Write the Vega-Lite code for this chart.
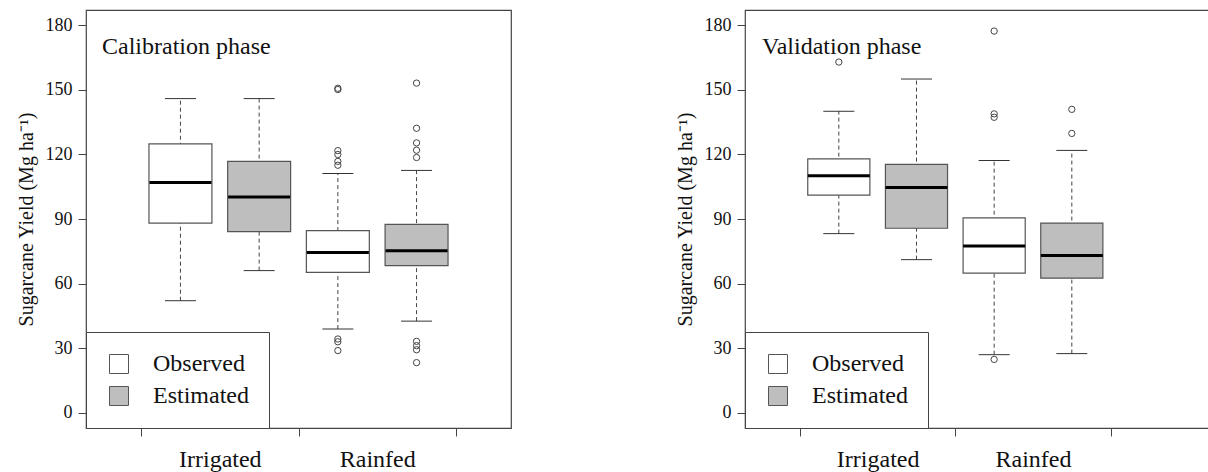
{
  "$schema": "https://vega.github.io/schema/vega-lite/v6.json",
  "padding": {"left": 15, "top": 9, "right": 0, "bottom": 0},
  "background": "white",
  "bounds": "flush",
  "spacing": 234,
  "config": {
    "font": "Liberation Serif",
    "view": {"stroke": "#444", "strokeWidth": 1.2},
    "tick": {"opacity": 1},
    "point": {"opacity": 1},
    "axis": {"grid": false, "domain": false, "tickColor": "#444", "tickSize": 8, "labelColor": "#111", "titleColor": "#111", "labelFont": "Liberation Serif", "titleFont": "Liberation Serif", "titleFontWeight": "normal"},
    "legend": {"orient": "bottom-left", "offset": 0, "padding": 20, "strokeColor": "#444", "fillColor": "white", "labelFont": "Liberation Serif", "labelFontSize": 24, "labelColor": "#111", "labelOffset": 22, "symbolOffset": 1, "symbolType": "square", "symbolSize": 361, "symbolStrokeColor": "#555", "symbolStrokeWidth": 1, "rowPadding": 8, "title": null}
  },
  "datasets": {
    "stats": [
      {"phase": "Calibration", "group": "Irrigated", "type": "Observed", "lower": 52.0, "q1": 88.1, "median": 107.0, "q3": 124.9, "upper": 146.0},
      {"phase": "Calibration", "group": "Irrigated", "type": "Estimated", "lower": 66.0, "q1": 84.1, "median": 100.2, "q3": 116.8, "upper": 146.0},
      {"phase": "Calibration", "group": "Rainfed", "type": "Observed", "lower": 38.8, "q1": 65.2, "median": 74.4, "q3": 84.6, "upper": 111.2},
      {"phase": "Calibration", "group": "Rainfed", "type": "Estimated", "lower": 42.5, "q1": 68.3, "median": 75.2, "q3": 87.5, "upper": 112.6},
      {"phase": "Validation", "group": "Irrigated", "type": "Observed", "lower": 83.2, "q1": 101.1, "median": 110.1, "q3": 118.0, "upper": 140.1},
      {"phase": "Validation", "group": "Irrigated", "type": "Estimated", "lower": 71.1, "q1": 85.7, "median": 104.7, "q3": 115.4, "upper": 155.1},
      {"phase": "Validation", "group": "Rainfed", "type": "Observed", "lower": 26.9, "q1": 64.8, "median": 77.5, "q3": 90.5, "upper": 117.2},
      {"phase": "Validation", "group": "Rainfed", "type": "Estimated", "lower": 27.4, "q1": 62.5, "median": 73.0, "q3": 88.1, "upper": 121.9}
    ],
    "outliers": [
      {"phase": "Calibration", "group": "Rainfed", "type": "Observed", "value": 150.8},
      {"phase": "Calibration", "group": "Rainfed", "type": "Observed", "value": 150.2},
      {"phase": "Calibration", "group": "Rainfed", "type": "Observed", "value": 121.8},
      {"phase": "Calibration", "group": "Rainfed", "type": "Observed", "value": 120.0},
      {"phase": "Calibration", "group": "Rainfed", "type": "Observed", "value": 116.8},
      {"phase": "Calibration", "group": "Rainfed", "type": "Observed", "value": 115.0},
      {"phase": "Calibration", "group": "Rainfed", "type": "Observed", "value": 34.2},
      {"phase": "Calibration", "group": "Rainfed", "type": "Observed", "value": 32.9},
      {"phase": "Calibration", "group": "Rainfed", "type": "Observed", "value": 28.8},
      {"phase": "Calibration", "group": "Rainfed", "type": "Estimated", "value": 153.2},
      {"phase": "Calibration", "group": "Rainfed", "type": "Estimated", "value": 132.2},
      {"phase": "Calibration", "group": "Rainfed", "type": "Estimated", "value": 125.4},
      {"phase": "Calibration", "group": "Rainfed", "type": "Estimated", "value": 122.0},
      {"phase": "Calibration", "group": "Rainfed", "type": "Estimated", "value": 118.6},
      {"phase": "Calibration", "group": "Rainfed", "type": "Estimated", "value": 33.1},
      {"phase": "Calibration", "group": "Rainfed", "type": "Estimated", "value": 31.1},
      {"phase": "Calibration", "group": "Rainfed", "type": "Estimated", "value": 29.2},
      {"phase": "Calibration", "group": "Rainfed", "type": "Estimated", "value": 23.2},
      {"phase": "Validation", "group": "Irrigated", "type": "Observed", "value": 163.0},
      {"phase": "Validation", "group": "Rainfed", "type": "Observed", "value": 177.4},
      {"phase": "Validation", "group": "Rainfed", "type": "Observed", "value": 138.9},
      {"phase": "Validation", "group": "Rainfed", "type": "Observed", "value": 137.3},
      {"phase": "Validation", "group": "Rainfed", "type": "Observed", "value": 24.7},
      {"phase": "Validation", "group": "Rainfed", "type": "Estimated", "value": 141.0},
      {"phase": "Validation", "group": "Rainfed", "type": "Estimated", "value": 129.8}
    ]
  },
  "resolve": {"scale": {"fill": "independent", "x": "independent", "y": "independent", "xOffset": "independent"}, "legend": {"fill": "independent"}},
  "hconcat": [
    {
      "width": 425,
      "height": 418,
      "title": {"text": "Calibration phase", "anchor": "start", "frame": "group", "orient": "top", "offset": -68, "baseline": "alphabetic", "dx": 16, "font": "Liberation Serif", "fontSize": 24, "fontWeight": "normal", "color": "#111"},
      "encoding": {
        "x": {"field": "group", "type": "nominal", "sort": ["Irrigated", "Rainfed"], "scale": {"domain": ["Irrigated", "Rainfed"], "paddingInner": 0, "paddingOuter": 0.35}, "axis": {"title": null, "labelAngle": 0, "tickBand": "extent", "labelFontSize": 24, "labelPadding": 11}},
        "xOffset": {"field": "type", "type": "nominal", "scale": {"domain": ["Observed", "Estimated"], "paddingInner": 0.2, "paddingOuter": 0.1}}
      },
      "layer": [
        {
          "data": {"name": "stats"},
          "transform": [{"filter": "datum.phase == 'Calibration'"}],
          "mark": {"type": "rule", "strokeDash": [4, 3], "color": "#444", "strokeWidth": 1},
          "encoding": {
            "y": {"field": "lower", "type": "quantitative", "scale": {"domain": [-7.2, 187.2], "nice": false, "zero": false}, "axis": {"values": [0, 30, 60, 90, 120, 150, 180], "labelFontSize": 18, "titleFontSize": 20, "labelPadding": 6, "titlePadding": 9, "title": "Sugarcane Yield (Mg ha⁻¹)"}},
            "y2": {"field": "upper"}
          }
        },
        {
          "data": {"name": "stats"},
          "transform": [{"filter": "datum.phase == 'Calibration'"}],
          "mark": {"type": "tick", "size": 31, "thickness": 1, "color": "#333", "opacity": 1},
          "encoding": {"y": {"field": "lower", "type": "quantitative", "title": "Sugarcane Yield (Mg ha⁻¹)"}}
        },
        {
          "data": {"name": "stats"},
          "transform": [{"filter": "datum.phase == 'Calibration'"}],
          "mark": {"type": "tick", "size": 31, "thickness": 1, "color": "#333", "opacity": 1},
          "encoding": {"y": {"field": "upper", "type": "quantitative", "title": "Sugarcane Yield (Mg ha⁻¹)"}}
        },
        {
          "data": {"name": "stats"},
          "transform": [{"filter": "datum.phase == 'Calibration'"}],
          "mark": {"type": "bar", "stroke": "#555", "strokeWidth": 1.2},
          "encoding": {
            "y": {"field": "q1", "type": "quantitative", "title": "Sugarcane Yield (Mg ha⁻¹)"},
            "y2": {"field": "q3"},
            "fill": {"field": "type", "type": "nominal", "scale": {"domain": ["Observed", "Estimated"], "range": ["#ffffff", "#bebebe"]}}
          }
        },
        {
          "data": {"name": "stats"},
          "transform": [{"filter": "datum.phase == 'Calibration'"}],
          "mark": {"type": "tick", "size": 62, "thickness": 3, "color": "#000", "opacity": 1},
          "encoding": {"y": {"field": "median", "type": "quantitative", "title": "Sugarcane Yield (Mg ha⁻¹)"}}
        },
        {
          "data": {"name": "outliers"},
          "transform": [{"filter": "datum.phase == 'Calibration'"}],
          "mark": {"type": "point", "shape": "circle", "filled": false, "size": 40, "stroke": "#444", "strokeWidth": 1, "opacity": 1},
          "encoding": {"y": {"field": "value", "type": "quantitative", "title": "Sugarcane Yield (Mg ha⁻¹)"}}
        }
      ]
    },
    {
      "width": 466,
      "height": 418,
      "title": {"text": "Validation phase", "anchor": "start", "frame": "group", "orient": "top", "offset": -68, "baseline": "alphabetic", "dx": 17, "font": "Liberation Serif", "fontSize": 24, "fontWeight": "normal", "color": "#111"},
      "encoding": {
        "x": {"field": "group", "type": "nominal", "sort": ["Irrigated", "Rainfed"], "scale": {"domain": ["Irrigated", "Rainfed"], "paddingInner": 0, "paddingOuter": 0.5, "align": 0.354}, "axis": {"title": null, "labelAngle": 0, "tickBand": "extent", "labelFontSize": 24, "labelPadding": 11}},
        "xOffset": {"field": "type", "type": "nominal", "scale": {"domain": ["Observed", "Estimated"], "paddingInner": 0.2, "paddingOuter": 0.1}}
      },
      "layer": [
        {
          "data": {"name": "stats"},
          "transform": [{"filter": "datum.phase == 'Validation'"}],
          "mark": {"type": "rule", "strokeDash": [4, 3], "color": "#444", "strokeWidth": 1},
          "encoding": {
            "y": {"field": "lower", "type": "quantitative", "scale": {"domain": [-7.2, 187.2], "nice": false, "zero": false}, "axis": {"values": [0, 30, 60, 90, 120, 150, 180], "labelFontSize": 18, "titleFontSize": 20, "labelPadding": 6, "titlePadding": 9, "title": "Sugarcane Yield (Mg ha⁻¹)"}},
            "y2": {"field": "upper"}
          }
        },
        {
          "data": {"name": "stats"},
          "transform": [{"filter": "datum.phase == 'Validation'"}],
          "mark": {"type": "tick", "size": 31, "thickness": 1, "color": "#333", "opacity": 1},
          "encoding": {"y": {"field": "lower", "type": "quantitative", "title": "Sugarcane Yield (Mg ha⁻¹)"}}
        },
        {
          "data": {"name": "stats"},
          "transform": [{"filter": "datum.phase == 'Validation'"}],
          "mark": {"type": "tick", "size": 31, "thickness": 1, "color": "#333", "opacity": 1},
          "encoding": {"y": {"field": "upper", "type": "quantitative", "title": "Sugarcane Yield (Mg ha⁻¹)"}}
        },
        {
          "data": {"name": "stats"},
          "transform": [{"filter": "datum.phase == 'Validation'"}],
          "mark": {"type": "bar", "stroke": "#555", "strokeWidth": 1.2},
          "encoding": {
            "y": {"field": "q1", "type": "quantitative", "title": "Sugarcane Yield (Mg ha⁻¹)"},
            "y2": {"field": "q3"},
            "fill": {"field": "type", "type": "nominal", "scale": {"domain": ["Observed", "Estimated"], "range": ["#ffffff", "#bebebe"]}}
          }
        },
        {
          "data": {"name": "stats"},
          "transform": [{"filter": "datum.phase == 'Validation'"}],
          "mark": {"type": "tick", "size": 62, "thickness": 3, "color": "#000", "opacity": 1},
          "encoding": {"y": {"field": "median", "type": "quantitative", "title": "Sugarcane Yield (Mg ha⁻¹)"}}
        },
        {
          "data": {"name": "outliers"},
          "transform": [{"filter": "datum.phase == 'Validation'"}],
          "mark": {"type": "point", "shape": "circle", "filled": false, "size": 40, "stroke": "#444", "strokeWidth": 1, "opacity": 1},
          "encoding": {"y": {"field": "value", "type": "quantitative", "title": "Sugarcane Yield (Mg ha⁻¹)"}}
        }
      ]
    }
  ]
}
